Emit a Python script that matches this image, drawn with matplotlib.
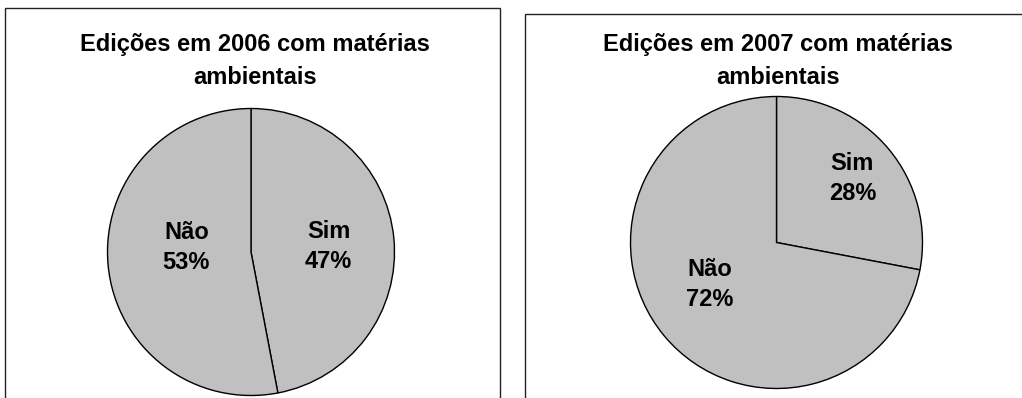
import matplotlib
matplotlib.use("Agg")
import matplotlib.pyplot as plt
from matplotlib.patches import Rectangle
import numpy as np

plt.rcParams['font.family'] = ['Liberation Sans', 'DejaVu Sans']

categories = ["Sim", "Não"]
values_2006 = [47, 53]
values_2007 = [28, 72]
titles = ["Edições em 2006 com matérias\nambientais",
          "Edições em 2007 com matérias\nambientais"]

W, H = 1022, 398
fig = plt.figure(figsize=(W / 100, H / 100), dpi=100)
fig.patch.set_facecolor("white")

# panel frames (pixels: left, top, right) - they run off the bottom/right
frames = [(4.5, 8, 500), (525, 14, 1030)]
for x0, y0, x1 in frames:
    fig.patches.append(Rectangle((x0 / W, -0.05), (x1 - x0) / W, (H - y0) / H + 0.05,
                                 transform=fig.transFigure, fill=False,
                                 edgecolor="#222222", linewidth=1.0))

# pie centre / radius in pixels, title centre, label positions (data units)
layout = [
    dict(cx=251, cy=252, r=143.5, tx=255, ty=61,
         lab=[(0.54, 0.04), (-0.45, 0.03)]),
    dict(cx=776.5, cy=242.5, r=146, tx=778, ty=61,
         lab=[(0.52, 0.44), (-0.455, -0.29)]),
]

for vals, title, lo in zip([values_2006, values_2007], titles, layout):
    r = lo["r"]
    ax = fig.add_axes([(lo["cx"] - r) / W, (H - lo["cy"] - r) / H, 2 * r / W, 2 * r / H])
    ax.pie(vals, startangle=90, counterclock=False, colors=["#c0c0c0"] * 2,
           wedgeprops=dict(edgecolor="black", linewidth=1.0))
    ax.set_xlim(-1, 1)
    ax.set_ylim(-1, 1)
    ax.set_aspect("equal")
    ax.axis("off")
    for cat, v, (lx, ly) in zip(categories, vals, lo["lab"]):
        ax.text(lx, ly, f"{cat}\n{v}%", ha="center", va="center",
                fontsize=17, fontweight="bold", linespacing=1.38)
    fig.text(lo["tx"] / W, 1 - lo["ty"] / H, title, ha="center", va="center",
             fontsize=17, fontweight="bold", linespacing=1.5)

fig.savefig("out.png", dpi=100)
